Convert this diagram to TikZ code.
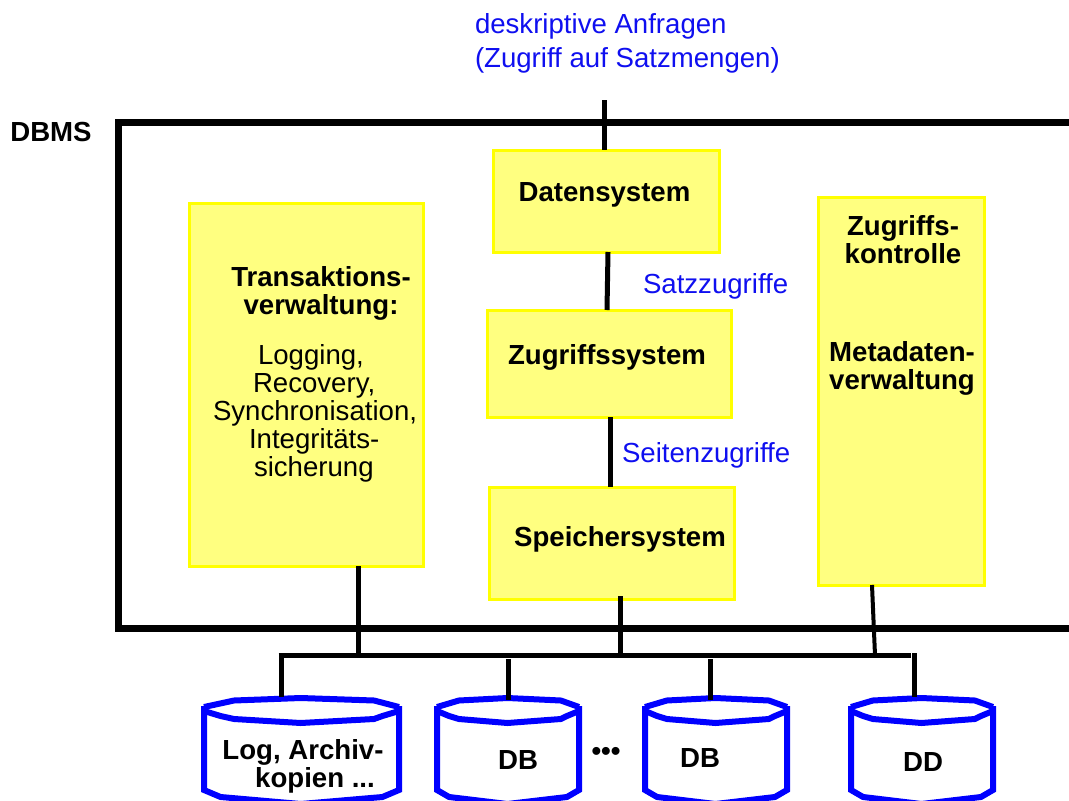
\documentclass[tikz,border=0pt]{standalone}
\usepackage{fontspec}
\setmainfont{Liberation Sans}
\definecolor{boxfill}{HTML}{FFFF80}
\definecolor{boxedge}{HTML}{FFFF00}
\definecolor{cylblue}{HTML}{0000FF}
\definecolor{lblblue}{HTML}{0F0FF0}
\newcommand{\cylshape}[3]{% left x, right x, name of the tap point on top
  \pgfmathsetmacro{\w}{#2-#1}
  \pgfmathsetmacro{\xa}{#1+.154*\w}\pgfmathsetmacro{\xb}{#1+.496*\w}\pgfmathsetmacro{\xc}{#1+.872*\w}
  \pgfmathsetmacro{\xd}{#1+.085*\w}\pgfmathsetmacro{\xe}{#1+.915*\w}
  \draw[cyl] (#1,707)--(\xa,700.5)--(\xb,698)--(\xc,700.5)--(#2,707);
  \draw[cyl] (#1,711)--(\xd,716)--(\xa,719)--(\xb,723)--(\xc,719)--(\xe,716)--(#2,711);
  \draw[cyl] (#1,706)--(#1,790)--(\xd,797)--(\xb,804)--(\xe,797)--(#2,790)--(#2,706);
}
\tikzset{
  every node/.style={inner sep=0pt,outer sep=0pt,font=\fontsize{27.6}{28}\selectfont},
  yellowbox/.style={draw=boxedge,fill=boxfill,line width=3pt,anchor=north west},
  frame/.style={line width=7pt,miter limit=10},
  thickconn/.style={line width=5pt},
  thinconn/.style={line width=4pt},
  cyl/.style={draw=cylblue,line width=6pt,line join=miter},
  boldtext/.style={font=\fontsize{27.6}{28}\selectfont\bfseries,align=center,anchor=base},
  plaintext/.style={align=left,anchor=base west},
  bluetext/.style={text=lblblue,align=left,anchor=base west},
}
\begin{document}
\begin{tikzpicture}[x=1pt,y=-1pt]
\useasboundingbox (0,0) rectangle (1069,801);
\fill[white] (0,0) rectangle (1069,801);

% outer frame
\coordinate (frameTR) at (1069,122.5);
\coordinate (frameTL) at (118.5,122.5);
\coordinate (frameBL) at (118.5,628.5);
\coordinate (frameBR) at (1069,628.5);
\draw[frame] (frameTR)--(frameTL)--(frameBL)--(frameBR);

% free ends and tap points
\coordinate (topend) at (604,100);
\coordinate (busL) at (278.5,655);
\coordinate (busR) at (911,655);
\coordinate (busTrans) at (358,655);
\coordinate (busSpeicher) at (620,655);
\coordinate (busMeta) at (875,655);
\coordinate (busTapA) at (281,653);
\coordinate (busTapB) at (508,659);
\coordinate (busTapC) at (710,659);
\coordinate (busTapD) at (914,653);
\coordinate (cylA) at (281,697);
\coordinate (cylB) at (508,700);
\coordinate (cylC) at (710,700);
\coordinate (cylD) at (914,697);

% boxes
\node[yellowbox,minimum width=226pt,minimum height=102pt] (daten) at (493,150) {};
\node[yellowbox,minimum width=244pt,minimum height=107pt] (zugriff) at (487,310) {};
\node[yellowbox,minimum width=245pt,minimum height=112pt] (speicher) at (489,487) {};
\node[yellowbox,minimum width=234pt,minimum height=363pt] (trans) at (189,203) {};
\node[yellowbox,minimum width=166pt,minimum height=388pt] (meta) at (818,197) {};

% connectors
\draw[thickconn] (topend)--(topend|-daten.north);
\draw[thickconn] ([xshift=2pt]daten.south)--([xshift=-2pt]zugriff.north);
\draw[thickconn] ([xshift=1pt]zugriff.south)--([xshift=-1.5pt]speicher.north);
\draw[thickconn] (trans.south-|busTrans)--(busTrans);
\draw[thickconn] ([xshift=8.5pt,yshift=3pt]speicher.south)--(busSpeicher);
\draw[thinconn] ([xshift=-29pt]meta.south)--(busMeta);
\draw[thickconn] (busL)--(busR);

% cylinders
\cylshape{204}{399}{A}
\cylshape{437}{579}{B}
\cylshape{645}{787}{C}
\cylshape{851}{993}{D}
\draw[thickconn] (busTapA)--(cylA);
\draw[thickconn] (busTapB)--(cylB);
\draw[thickconn] (busTapC)--(cylC);
\draw[thickconn] (busTapD)--(cylD);

% labels
\node[boldtext] (dbmslabel) at (51,141) {DBMS};
\node[bluetext] (anfragen) at (475,33) {deskriptive Anfragen};
\node[bluetext] (satzmengen) at (475,67) {(Zugriff auf Satzmengen)};
\node[bluetext] (satz) at (643,293) {Satzzugriffe};
\node[bluetext] (seiten) at (622,462) {Seitenzugriffe};
\node[boldtext] (tDaten) at (604.5,201) {Datensystem};
\node[boldtext] (tZugriff) at (607,364) {Zugriffssystem};
\node[boldtext] (tSpeicher) at (620,546) {Speichersystem};
\node[boldtext] (tTrans) at (321,314) {Transaktions-\\[0pt]verwaltung:};
\node[plaintext] (tLog) at (213,476) {\hspace*{45pt}Logging,\\[0pt]\hspace*{40pt}Recovery,\\[0pt]Synchronisation,\\[0pt]\hspace*{36pt}Integritäts-\\[0pt]\hspace*{41pt}sicherung};
\node[boldtext] (tKontrolle) at (903,263) {Zugriffs-\\[0pt]kontrolle};
\node[boldtext] (tMeta) at (902,389) {Metadaten-\\[0pt]verwaltung};
\node[boldtext] (tArchivA) at (303,759) {Log, Archiv-};
\node[boldtext] (tArchivB) at (315,787) {kopien ...};
\node[boldtext] (tDBa) at (518,769) {DB};
\node[boldtext] (tDBb) at (700,767) {DB};
\node[boldtext] (tDD) at (923,771) {DD};
\node[boldtext] (tDots) at (606,760) {•••};
\end{tikzpicture}
\end{document}
